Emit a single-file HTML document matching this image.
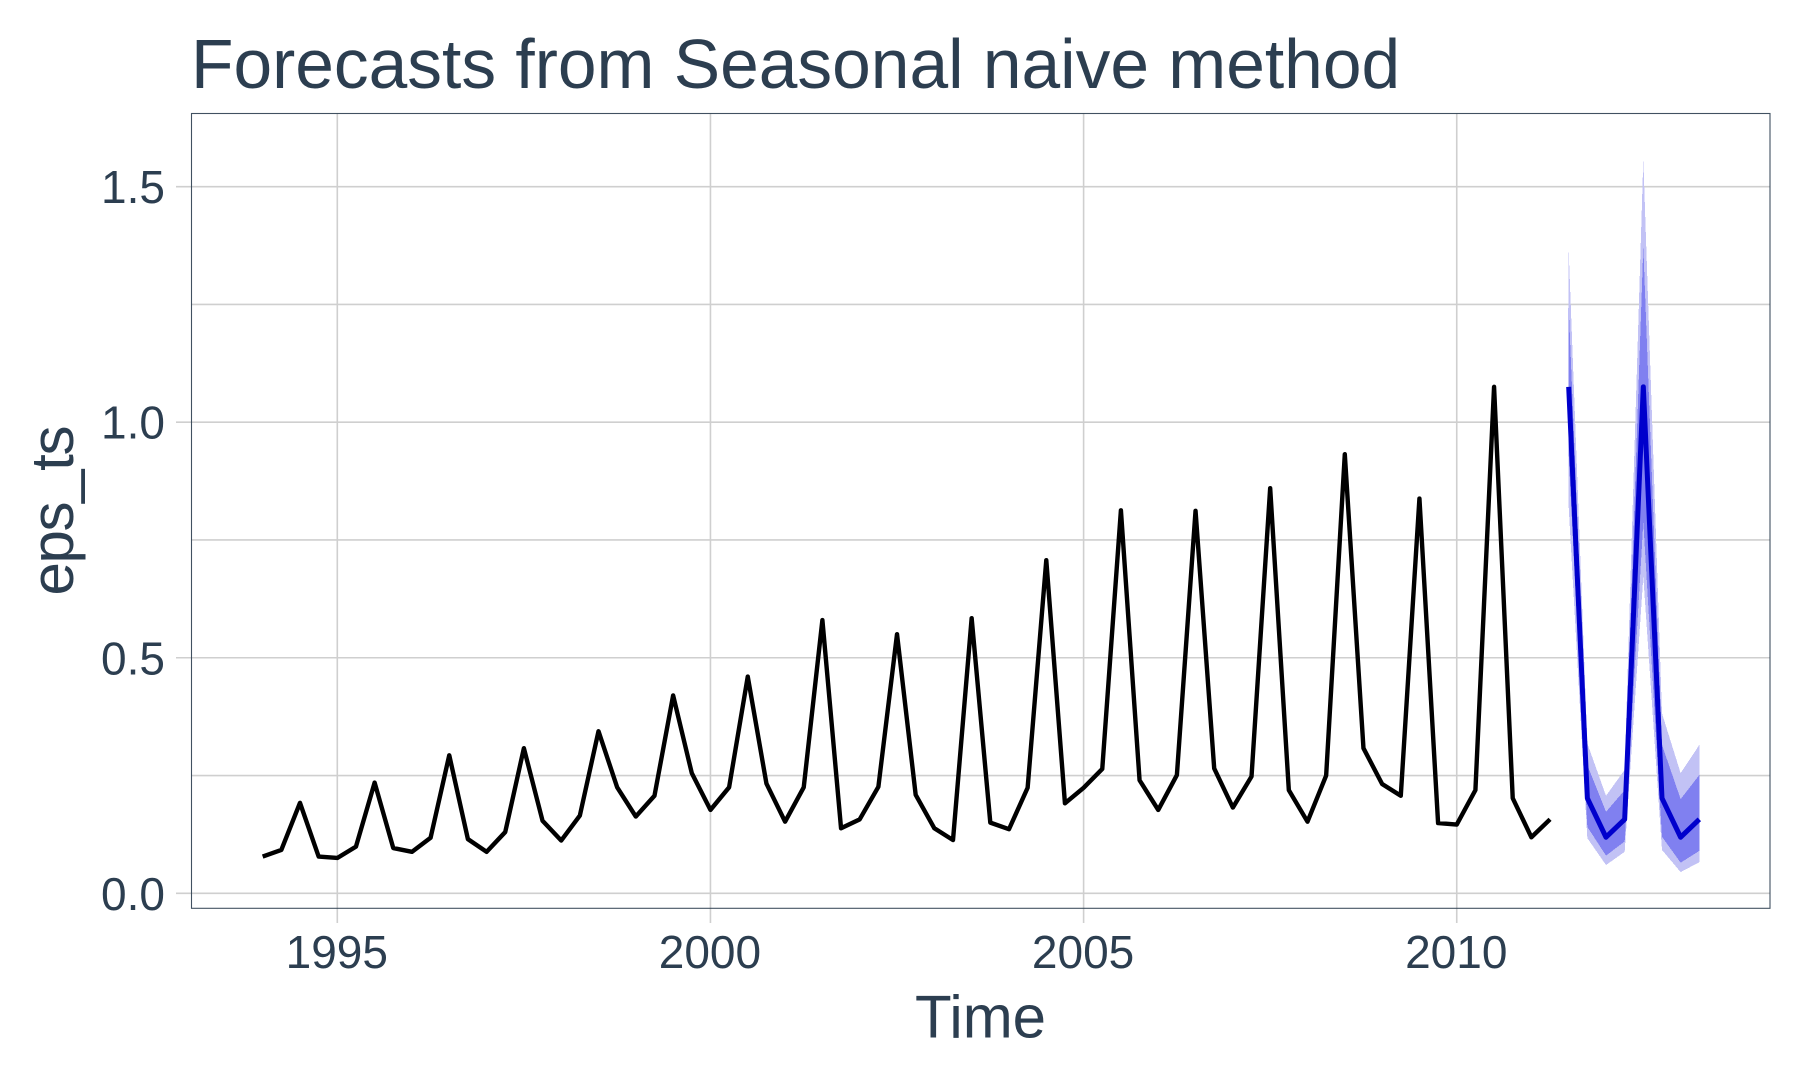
<!DOCTYPE html>
<html lang="en">
<head>
<meta charset="utf-8">
<title>Forecasts from Seasonal naive method</title>
<style>
  html, body { margin: 0; padding: 0; background: #ffffff; }
  #chart { display: block; }
  text { font-family: "Liberation Sans", Arial, sans-serif; fill: #2C3E50; }
</style>
</head>
<body>
<svg id="chart" xmlns="http://www.w3.org/2000/svg" width="1800" height="1080" viewBox="0 0 1800 1080">
  <rect x="0" y="0" width="1800" height="1080" fill="#ffffff"></rect>
  <text x="191" y="88" font-size="69.5">Forecasts from Seasonal naive method</text>
  <g id="grid"></g>
  <g id="bands"></g>
  <g id="series"></g>
  <rect x="191.5" y="113.5" width="1578.5" height="794.8" fill="none" stroke="#2C3E50" stroke-width="1.1" stroke-opacity="0.9"></rect>
  <g id="x-labels"></g>
  <g id="y-labels"></g>
  <text x="980.5" y="1037.5" font-size="60" text-anchor="middle">Time</text>
  <text x="0" y="0" font-size="60" text-anchor="middle" textLength="170" transform="translate(73 510.5) rotate(-90)">eps_ts</text>
</svg>
<script>
var observedStart = 1994;
var forecastStart = 2011.5;
var periodsPerYear = 4;

var observed = [
  0.078, 0.092, 0.192, 0.078,
  0.075, 0.099, 0.235, 0.096,
  0.088, 0.118, 0.293, 0.115,
  0.088, 0.130, 0.308, 0.154,
  0.112, 0.165, 0.344, 0.225,
  0.163, 0.207, 0.420, 0.255,
  0.177, 0.225, 0.460, 0.233,
  0.152, 0.225, 0.580, 0.138,
  0.157, 0.226, 0.550, 0.209,
  0.138, 0.113, 0.584, 0.150,
  0.136, 0.224, 0.707, 0.191,
  0.224, 0.264, 0.813, 0.240,
  0.177, 0.251, 0.812, 0.265,
  0.182, 0.248, 0.860, 0.219,
  0.152, 0.250, 0.932, 0.308,
  0.232, 0.207, 0.838, 0.149,
  0.146, 0.219, 1.075, 0.202,
  0.119, 0.157
];

var forecastMean = [1.075, 0.202, 0.119, 0.157, 1.075, 0.202, 0.119, 0.157];
var forecastHi95 = [1.364, 0.318, 0.207, 0.262, 1.558, 0.382, 0.255, 0.315];
var forecastHi80 = [1.246, 0.272, 0.173, 0.219, 1.372, 0.315, 0.200, 0.251];
var forecastLo80 = [0.930, 0.141, 0.080, 0.110, 0.788, 0.120, 0.065, 0.090];
var forecastLo95 = [0.820, 0.117, 0.060, 0.088, 0.672, 0.092, 0.045, 0.066];

var xTicks = [1995, 2000, 2005, 2010];
var yTicks = [0, 0.5, 1, 1.5];
var yTickLabels = ["0.0", "0.5", "1.0", "1.5"];
var yMinorGrid = [0.25, 0.75, 1.25];

var SVG_NS = "http://www.w3.org/2000/svg";
var panel = { left: 191.5, right: 1770, top: 113.5, bottom: 908.3 };

function xScale(t) { return 337.3 + (t - 1995) * 74.63; }
function yScale(v) { return 893.3 - v * 471.1; }

function setAttrs(el, attrs) {
  for (var k in attrs) { el.setAttribute(k, attrs[k]); }
  return el;
}

function pointsFor(times, values) {
  return values.map(function (v, i) {
    return xScale(times[i]).toFixed(2) + "," + yScale(v).toFixed(2);
  }).join(" ");
}

function timesFor(start, n) {
  var out = [];
  for (var i = 0; i < n; i++) { out.push(start + i / periodsPerYear); }
  return out;
}

var gridGroup = document.getElementById("grid");
var bandsGroup = document.getElementById("bands");
var seriesGroup = document.getElementById("series");
var xLabelGroup = document.getElementById("x-labels");
var yLabelGroup = document.getElementById("y-labels");

yMinorGrid.forEach(function (v) {
  var el = document.createElementNS(SVG_NS, "line");
  
  
  setAttrs(el, { x1: panel.left, x2: panel.right, y1: yScale(v), y2: yScale(v), stroke: "#cfcfcf", "stroke-width": 1.6 });
  gridGroup.appendChild(el);
});

yTicks.forEach(function (v, i) {
  var el = document.createElementNS(SVG_NS, "line");
  
  
  setAttrs(el, { x1: 176, x2: panel.right, y1: yScale(v), y2: yScale(v), stroke: "#cfcfcf", "stroke-width": 1.6 });
  gridGroup.appendChild(el);

  var label = document.createElementNS(SVG_NS, "text");
  
  
  setAttrs(label, { x: 165, y: yScale(v) + 16.5, "font-size": 46, "text-anchor": "end" });
  label.textContent = yTickLabels[i];
  yLabelGroup.appendChild(label);
});

xTicks.forEach(function (t) {
  var el = document.createElementNS(SVG_NS, "line");
  
  
  setAttrs(el, { x1: xScale(t), x2: xScale(t), y1: panel.top, y2: 923, stroke: "#cfcfcf", "stroke-width": 1.6 });
  gridGroup.appendChild(el);

  var label = document.createElementNS(SVG_NS, "text");
  
  
  setAttrs(label, { x: xScale(t) - 0.5, y: 968, "font-size": 46, "text-anchor": "middle" });
  label.textContent = String(t);
  xLabelGroup.appendChild(label);
});

var fcTimes = timesFor(forecastStart, forecastMean.length);

function bandPoints(lo, hi) {
  var revTimes = fcTimes.slice().reverse();
  return pointsFor(fcTimes, hi) + " " + pointsFor(revTimes, lo.slice().reverse());
}

var band95 = document.createElementNS(SVG_NS, "polygon");


setAttrs(band95, { points: bandPoints(forecastLo95, forecastHi95), fill: "#C2C2F5", "shape-rendering": "crispEdges" });
bandsGroup.appendChild(band95);

var band80 = document.createElementNS(SVG_NS, "polygon");


setAttrs(band80, { points: bandPoints(forecastLo80, forecastHi80), fill: "#8080F0", "shape-rendering": "crispEdges" });
bandsGroup.appendChild(band80);

var obsLine = document.createElementNS(SVG_NS, "polyline");


setAttrs(obsLine, {
  points: pointsFor(timesFor(observedStart, observed.length), observed),
  fill: "none", stroke: "#000000", "stroke-width": 4.4, "stroke-linejoin": "round", "stroke-linecap": "butt"
});
seriesGroup.appendChild(obsLine);

var meanLine = document.createElementNS(SVG_NS, "polyline");


setAttrs(meanLine, {
  points: pointsFor(fcTimes, forecastMean),
  fill: "none", stroke: "#0000CC", "stroke-width": 5, "stroke-linejoin": "round", "stroke-linecap": "butt"
});
seriesGroup.appendChild(meanLine);
</script>
</body>
</html>
